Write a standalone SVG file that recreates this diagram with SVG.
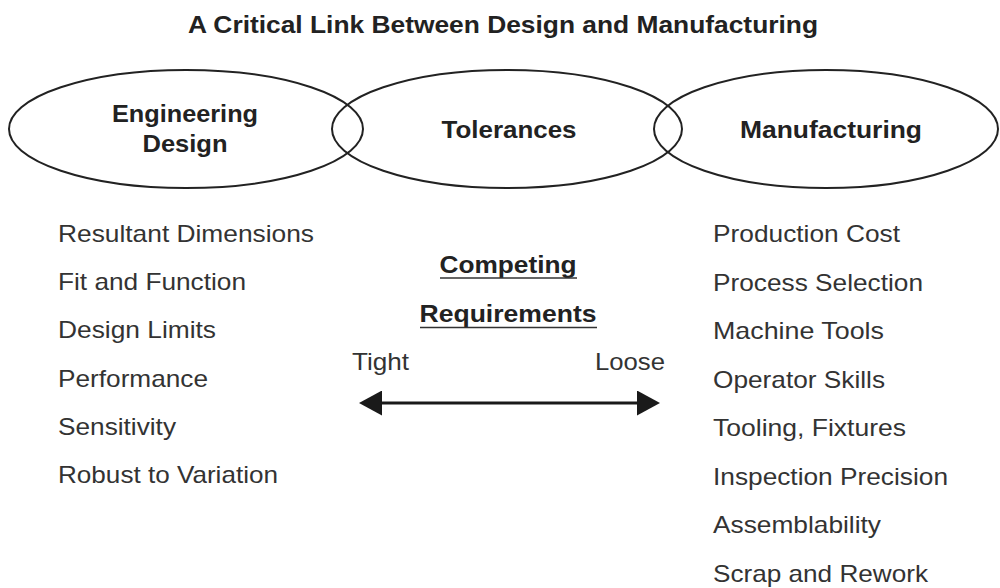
<svg xmlns="http://www.w3.org/2000/svg" width="1000" height="588" viewBox="0 0 1000 588">
<style>
  .bg{fill:#ffffff}
  .ell{fill:none;stroke:#222;stroke-width:2}
  .t{font-family:"Liberation Sans",Arial,sans-serif;font-size:24px;fill:#333}
  .b{font-family:"Liberation Sans",Arial,sans-serif;font-size:24px;font-weight:bold;fill:#222}
  .ul{stroke:#333;stroke-width:1.6}
  .arr{stroke:#1a1a1a;stroke-width:3;fill:none}
</style>
<defs>
  <marker id="head" viewBox="0 0 23 25" markerWidth="23" markerHeight="25" markerUnits="userSpaceOnUse" refX="0" refY="12.5" orient="auto-start-reverse">
    <path d="M0,0 L23,12.5 L0,25 z" fill="#1a1a1a"/>
  </marker>
</defs>
<rect class="bg" x="0" y="0" width="1000" height="588"/>
<text id="title" class="b" x="188" y="33" textLength="630" lengthAdjust="spacingAndGlyphs">A Critical Link Between Design and Manufacturing</text>

<g id="node-engineering-design">
  <ellipse class="ell" cx="186" cy="129" rx="177" ry="59"/>
  <text class="b" x="185" y="122" text-anchor="middle" textLength="146" lengthAdjust="spacingAndGlyphs">Engineering</text>
  <text class="b" x="185" y="152" text-anchor="middle" textLength="85" lengthAdjust="spacingAndGlyphs">Design</text>
</g>
<g id="node-tolerances">
  <ellipse class="ell" cx="507" cy="129" rx="175" ry="59"/>
  <text class="b" x="509" y="138" text-anchor="middle" textLength="135" lengthAdjust="spacingAndGlyphs">Tolerances</text>
</g>
<g id="node-manufacturing">
  <ellipse class="ell" cx="826" cy="129" rx="172" ry="59"/>
  <text class="b" x="831" y="138" text-anchor="middle" textLength="182" lengthAdjust="spacingAndGlyphs">Manufacturing</text>
</g>

<g id="design-list">
  <text class="t" x="58" y="242" textLength="256" lengthAdjust="spacingAndGlyphs">Resultant Dimensions</text>
  <text class="t" x="58" y="290" textLength="188" lengthAdjust="spacingAndGlyphs">Fit and Function</text>
  <text class="t" x="58" y="338" textLength="158" lengthAdjust="spacingAndGlyphs">Design Limits</text>
  <text class="t" x="58" y="387" textLength="150" lengthAdjust="spacingAndGlyphs">Performance</text>
  <text class="t" x="58" y="435" textLength="118" lengthAdjust="spacingAndGlyphs">Sensitivity</text>
  <text class="t" x="58" y="483" textLength="220" lengthAdjust="spacingAndGlyphs">Robust to Variation</text>
</g>

<g id="manufacturing-list">
  <text class="t" x="713" y="242" textLength="187" lengthAdjust="spacingAndGlyphs">Production Cost</text>
  <text class="t" x="713" y="290.5" textLength="210" lengthAdjust="spacingAndGlyphs">Process Selection</text>
  <text class="t" x="713" y="339" textLength="171" lengthAdjust="spacingAndGlyphs">Machine Tools</text>
  <text class="t" x="713" y="387.5" textLength="172" lengthAdjust="spacingAndGlyphs">Operator Skills</text>
  <text class="t" x="713" y="436" textLength="193" lengthAdjust="spacingAndGlyphs">Tooling, Fixtures</text>
  <text class="t" x="713" y="484.5" textLength="235" lengthAdjust="spacingAndGlyphs">Inspection Precision</text>
  <text class="t" x="713" y="533" textLength="168" lengthAdjust="spacingAndGlyphs">Assemblability</text>
  <text class="t" x="713" y="581.5" textLength="215" lengthAdjust="spacingAndGlyphs">Scrap and Rework</text>
</g>

<g id="competing">
  <text class="b" x="508" y="273" text-anchor="middle" textLength="137" lengthAdjust="spacingAndGlyphs">Competing</text>
  <line class="ul" x1="440" y1="278" x2="577" y2="278"/>
  <text class="b" x="508" y="322" text-anchor="middle" textLength="177" lengthAdjust="spacingAndGlyphs">Requirements</text>
  <line class="ul" x1="420" y1="327.5" x2="597" y2="327.5"/>
  <text class="t" x="352" y="370" textLength="57" lengthAdjust="spacingAndGlyphs">Tight</text>
  <text class="t" x="595" y="370" textLength="70" lengthAdjust="spacingAndGlyphs">Loose</text>
</g>

<g id="connectors">
  <line class="arr" x1="382" y1="403" x2="637" y2="403" marker-start="url(#head)" marker-end="url(#head)"/>
</g>
</svg>
